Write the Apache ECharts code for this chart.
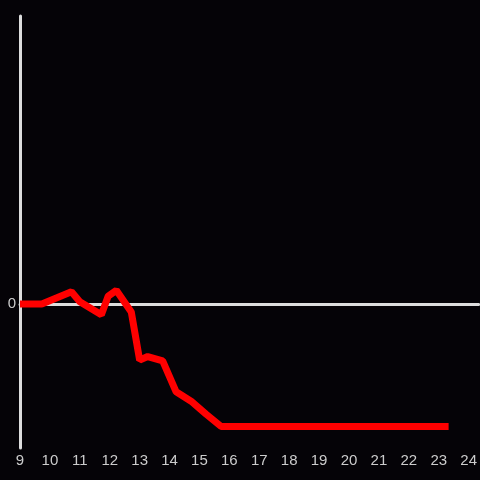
<!DOCTYPE html>
<html>
<head>
<meta charset="utf-8">
<script src="https://cdn.jsdelivr.net/npm/echarts@6/dist/echarts.min.js"></script>
<style>
html,body{margin:0;padding:0;background:#050307;}
#main{width:480px;height:480px;}
</style>
</head>
<body>
<div id="main"></div>
<script>
// hour of day, value
let hours = [9.0, 9.73, 10.72, 11.0, 11.72, 11.95, 12.22, 12.72, 13.0, 13.27, 13.77, 14.22, 14.72, 15.22, 15.72, 23.33];
let values = [0, 0, 0.85, 0.15, -0.75, 0.55, 0.95, -0.55, -3.9, -3.65, -3.95, -6.1, -6.75, -7.65, -8.5, -8.5];

let pts = hours.map((h, i) => [h, values[i]]);

let myEchart = echarts.init(document.getElementById("main"));
let opt = {
	backgroundColor: "#050307",
	animation: false,
	grid: {left: 20, right: 0, top: 16, bottom: 32},
	xAxis: [
		{
			type: "value",
			min: 9, max: 24.333, interval: 1,
			axisLine: {show: true, onZero: true, lineStyle: {color: "#dddddd", width: 3}},
			axisTick: {show: false},
			axisLabel: {show: false},
			splitLine: {show: false}
		},
		{
			type: "value",
			position: "bottom",
			min: 9, max: 24.333, interval: 1,
			axisLine: {show: false, onZero: false},
			axisTick: {show: false},
			axisLabel: {
				color: "#cccccc", fontSize: 15, margin: 5,
				showMaxLabel: false,
				formatter: v => (Number.isInteger(v) ? String(v) : "")
			},
			splitLine: {show: false}
		}
	],
	yAxis: {
		type: "value",
		min: -10, max: 20, interval: 10,
		axisLine: {show: true, lineStyle: {color: "#dddddd", width: 3}},
		axisTick: {show: false},
		axisLabel: {color: "#cccccc", fontSize: 15, margin: 4, formatter: v => (v === 0 ? "0" : "")},
		splitLine: {show: false}
	},
	series: [{
		type: "line",
		xAxisIndex: 0,
		data: pts,
		symbol: "none",
		lineStyle: {color: "#ff0000", width: 7}
	}]
};
myEchart.setOption(opt);
</script>
</body>
</html>
